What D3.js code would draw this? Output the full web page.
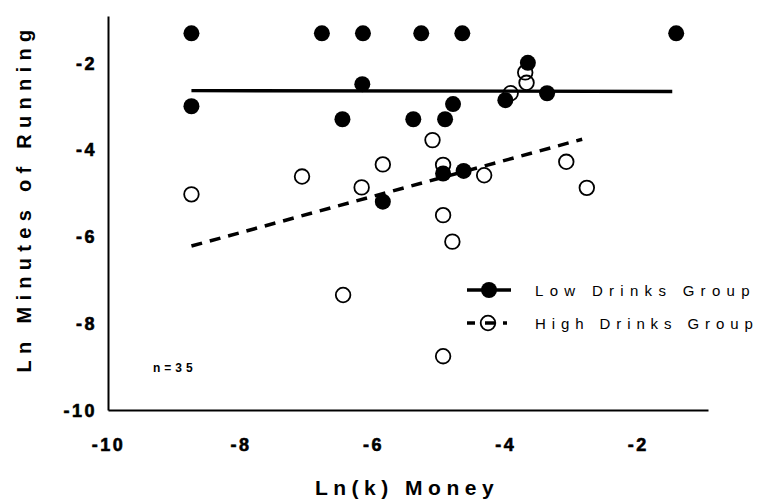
<!DOCTYPE html>
<html>
<head>
<meta charset="utf-8">
<script src="https://cdn.jsdelivr.net/npm/d3@7"></script>
<style>
  body { margin: 0; background: #fff; }
  svg text { font-family: "Liberation Sans", Arial, sans-serif; }
</style>
</head>
<body>
<div id="chart"></div>
<script>
'use strict';

// Low drinks group (filled circles)
const lowX = [-8.74, -6.77, -6.15, -5.27, -4.65, -1.42, -8.74, -6.16, -6.46, -5.39, -4.91, -4.79, -3.66, -4.00, -3.37, -5.85, -4.94, -4.63];
const lowY = [-1.32, -1.32, -1.32, -1.32, -1.32, -1.32, -3.00, -2.49, -3.30, -3.30, -3.30, -2.95, -2.00, -2.86, -2.70, -5.20, -4.55, -4.49];

// High drinks group (open circles)
const highX = [-8.74, -7.07, -6.17, -5.85, -5.10, -4.94, -4.32, -4.94, -4.80, -3.08, -2.77, -3.92, -3.70, -3.68, -4.94, -6.45];
const highY = [-5.03, -4.62, -4.87, -4.34, -3.78, -4.35, -4.59, -5.51, -6.12, -4.28, -4.88, -2.70, -2.22, -2.46, -8.76, -7.35];

// fitted lines (end points)
const lowFit = [[-8.74, -2.64], [-1.48, -2.66]];
const highFit = [[-8.74, -6.22], [-2.84, -3.76]];

const xTicks = [-10, -8, -6, -4, -2];
const yTicks = [-10, -8, -6, -4, -2];

const width = 762, height = 504;

const svg = d3.select("#chart").append("svg")
  .attr("width", width)
  .attr("height", height);

const xScale = d3.scaleLinear().domain([-10, -0.94]).range([108, 708]);
const yScale = d3.scaleLinear().domain([-10, -0.92]).range([410, 16]);

// plain hyphen minus like the original
const fmt = function (d) { return String(d); };

const xAxis = d3.axisBottom(xScale)
  .tickValues(xTicks)
  .tickSize(0)
  .tickPadding(28)
  .tickFormat(fmt);

const yAxis = d3.axisLeft(yScale)
  .tickValues(yTicks)
  .tickSize(0)
  .tickPadding(11)
  .tickFormat(fmt);

const gx = svg.append("g")
  .attr("transform", `translate(0, ${yScale(-10)})`)
  .call(xAxis);

const gy = svg.append("g")
  .attr("transform", `translate(${xScale(-10)}, 0)`)
  .call(yAxis);

[gx, gy].forEach(function (g) {
  g.attr("font-family", null).attr("font-size", null);
  g.select(".domain").attr("stroke", "#000").attr("stroke-width", 2);
  g.selectAll(".tick text")
    .attr("fill", "#000")
    .attr("stroke", "#000")
    .attr("stroke-width", 0.6)
    .style("font-family", "'Liberation Sans', Arial, sans-serif")
    .style("font-size", "18px")
    .style("font-weight", "700")
    .style("letter-spacing", "2.5px");
});
gy.selectAll(".tick text").attr("dy", "0.35em");

// axis titles
svg.append("text")
  .text("Ln(k) Money")
  .attr("x", 407)
  .attr("y", 495)
  .attr("text-anchor", "middle")
  .style("font-size", "21px")
  .style("font-weight", "bold")
  .style("letter-spacing", "5.5px");

svg.append("text")
  .text("Ln Minutes of Running")
  .attr("transform", "translate(31, 198) rotate(-90)")
  .attr("text-anchor", "middle")
  .style("font-size", "20px")
  .style("font-weight", "bold")
  .style("letter-spacing", "6.3px");

const line = d3.line()
  .x(function (d) { return xScale(d[0]); })
  .y(function (d) { return yScale(d[1]); });

svg.append("path")
  .datum(lowFit)
  .attr("d", line)
  .attr("fill", "none")
  .attr("stroke", "#000")
  .attr("stroke-width", 3.3);

svg.append("path")
  .datum(highFit)
  .attr("d", line)
  .attr("fill", "none")
  .attr("stroke", "#000")
  .attr("stroke-width", 3.5)
  .attr("stroke-dasharray", "11,8");

svg.append("g").selectAll("circle")
  .data(d3.zip(highX, highY))
  .join("circle")
  .attr("cx", function (d) { return xScale(d[0]); })
  .attr("cy", function (d) { return yScale(d[1]); })
  .attr("r", 7.3)
  .attr("fill", "none")
  .attr("stroke", "#000")
  .attr("stroke-width", 1.8);

svg.append("g").selectAll("circle")
  .data(d3.zip(lowX, lowY))
  .join("circle")
  .attr("cx", function (d) { return xScale(d[0]); })
  .attr("cy", function (d) { return yScale(d[1]); })
  .attr("r", 8)
  .attr("fill", "#000");

// legend
const legend = svg.append("g");
legend.append("line")
  .attr("x1", 467).attr("x2", 511).attr("y1", 290).attr("y2", 290)
  .attr("stroke", "#000").attr("stroke-width", 3.3);
legend.append("circle")
  .attr("cx", 489).attr("cy", 290).attr("r", 8).attr("fill", "#000");
legend.append("text")
  .text("Low Drinks Group")
  .attr("x", 535).attr("y", 291).attr("dy", "0.35em")
  .style("font-size", "15px")
  .style("letter-spacing", "6.3px");

legend.append("line")
  .attr("x1", 467).attr("x2", 510).attr("y1", 323).attr("y2", 323)
  .attr("stroke", "#000").attr("stroke-width", 3.5)
  .attr("stroke-dasharray", "8,10,10,8,4");
legend.append("circle")
  .attr("cx", 488).attr("cy", 323).attr("r", 7.3)
  .attr("fill", "none").attr("stroke", "#000").attr("stroke-width", 1.8);
legend.append("text")
  .text("High Drinks Group")
  .attr("x", 535).attr("y", 324).attr("dy", "0.35em")
  .style("font-size", "15px")
  .style("letter-spacing", "5.9px");

svg.append("text")
  .text("n=35")
  .attr("x", 153).attr("y", 372)
  .style("font-size", "12px")
  .style("font-weight", "bold")
  .style("letter-spacing", "4px");
</script>
</body>
</html>
